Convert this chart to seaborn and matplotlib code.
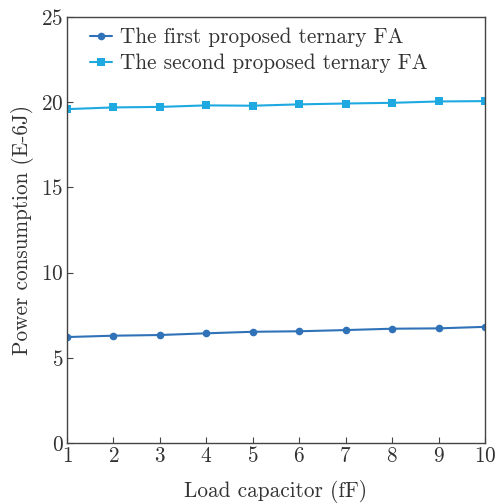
import matplotlib
matplotlib.use("Agg")
import pandas as pd
import seaborn as sns
import matplotlib.pyplot as plt

load_cap = [1, 2, 3, 4, 5, 6, 7, 8, 9, 10]
first_fa = [6.22, 6.30, 6.34, 6.44, 6.53, 6.56, 6.63, 6.71, 6.73, 6.82]
second_fa = [19.60, 19.70, 19.73, 19.82, 19.80, 19.88, 19.93, 19.97, 20.05, 20.07]
names = ["The first proposed ternary FA", "The second proposed ternary FA"]

df = pd.DataFrame({
    "x": load_cap * 2,
    "y": first_fa + second_fa,
    "series": [names[0]] * len(load_cap) + [names[1]] * len(load_cap),
})

sns.set_style("white")
plt.rcParams["font.family"] = ["cmr10", "DejaVu Serif"]
plt.rcParams["axes.formatter.use_mathtext"] = True
plt.rcParams["mathtext.fontset"] = "cm"

text_col = "#333333"
fs = 15.3
fig = plt.figure(figsize=(4.97, 5.04), dpi=100)
ax = fig.add_axes([0.1348, 0.121, 0.841, 0.845])

sns.lineplot(data=df, x="x", y="y", hue="series", style="series",
             palette=["#2f72b8", "#1fa9e1"], markers=["o", "s"], dashes=False,
             markersize=5.5, markeredgewidth=0, linewidth=1.5, ax=ax)

ax.set_xlim(1, 10)
ax.set_ylim(0, 25)
ax.set_xticks(load_cap)
ax.set_yticks([0, 5, 10, 15, 20, 25])
ax.tick_params(direction="in", length=4, width=0.8, labelsize=fs,
               bottom=True, left=True, top=False, right=False,
               colors="#444444", labelcolor=text_col, pad=2.5)
for s in ax.spines.values():
    s.set_color("#444444")
    s.set_linewidth(1.0)

ax.set_xlabel("Load capacitor (fF)", fontsize=fs, color=text_col, labelpad=10)
ax.set_ylabel("Power consumption (E-6J)", fontsize=fs, color=text_col, labelpad=5)

leg = ax.legend(loc="upper left", frameon=False, fontsize=fs,
                handlelength=1.05, handletextpad=0.35, labelspacing=0.3,
                borderaxespad=0.1, bbox_to_anchor=(0.03, 1.0))
for t in leg.get_texts():
    t.set_color(text_col)

fig.savefig("out.png", dpi=100)
